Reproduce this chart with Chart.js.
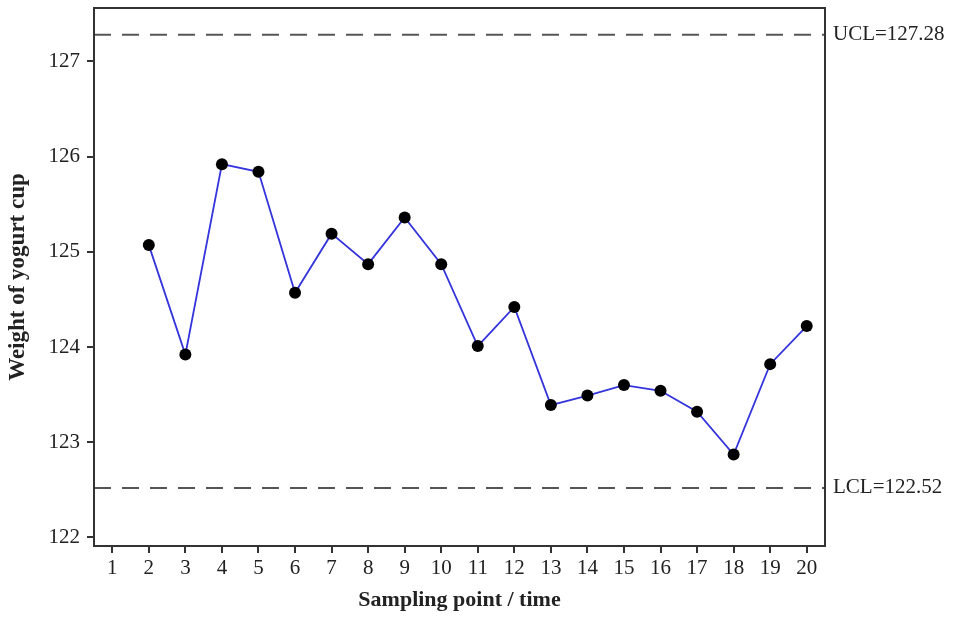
<!DOCTYPE html>
<html>
<head>
<meta charset="utf-8">
<script src="https://cdn.jsdelivr.net/npm/chart.js@4"></script>
<style>
  html, body { margin: 0; padding: 0; background: #fff; }
  #wrap { width: 953px; height: 617px; }
</style>
</head>
<body>
<div id="wrap"><canvas id="chart" width="953" height="617"></canvas></div>
<script>
// control chart data
const samples = [1, 2, 3, 4, 5, 6, 7, 8, 9, 10, 11, 12, 13, 14, 15, 16, 17, 18, 19, 20]
const weights = [null, 125.07, 123.92, 125.92, 125.84, 124.57, 125.19, 124.87, 125.36, 124.87,
  124.01, 124.42, 123.39, 123.49, 123.60, 123.54, 123.32, 122.87, 123.82, 124.22]
const yTicks = [122, 123, 124, 125, 126, 127]
const UCL = 127.28
const LCL = 122.52

const FONT = "'Liberation Serif', 'Times New Roman', serif"
const TEXT_COLOR = '#222'
const FRAME_COLOR = '#333'
const DASH_COLOR = '#555'

const limitLine = (value) => ({
  data: [{ x: 0.5, y: value }, { x: 20.5, y: value }],
  borderColor: DASH_COLOR,
  borderWidth: 2,
  borderDash: [17, 11],
  pointRadius: 0,
  fill: false
})

// box around plot area + control limit labels on the right
const framePlugin = {
  id: 'frameAndLabels',
  afterDraw: (chart) => {
    const ctx = chart.ctx
    const area = chart.chartArea
    const y = chart.scales.y
    ctx.save()
    ctx.strokeStyle = FRAME_COLOR
    ctx.lineWidth = 2
    ctx.strokeRect(area.left, area.top, area.right - area.left, area.bottom - area.top)
    ctx.fillStyle = TEXT_COLOR
    ctx.font = "21px " + FONT
    ctx.textAlign = 'left'
    ctx.textBaseline = 'middle'
    ctx.fillText('UCL=' + UCL.toFixed(2), area.right + 8, y.getPixelForValue(UCL))
    ctx.fillText('LCL=' + LCL.toFixed(2), area.right + 8, y.getPixelForValue(LCL))
    ctx.restore()
  }
}

new Chart(document.getElementById('chart'), {
  type: 'line',
  data: {
    datasets: [
      {
        data: samples.map((s, i) => ({ x: s, y: weights[i] })),
        borderColor: '#3434dc',
        borderWidth: 1.8,
        pointRadius: 6,
        pointBackgroundColor: '#000',
        pointBorderColor: '#000',
        pointBorderWidth: 0,
        tension: 0,
        spanGaps: false
      },
      limitLine(UCL),
      limitLine(LCL)
    ]
  },
  options: {
    responsive: false,
    animation: false,
    layout: { padding: { left: 0, right: 128, top: 8, bottom: 0 } },
    plugins: {
      legend: { display: false },
      tooltip: { enabled: false }
    },
    scales: {
      x: {
        type: 'linear',
        min: 0.5,
        max: 20.5,
        afterBuildTicks: (scale) => { scale.ticks = samples.map(v => ({ value: v })) },
        afterFit: (scale) => { scale.height = 71; scale.paddingLeft = 0; scale.paddingRight = 0 },
        grid: { drawOnChartArea: false, drawTicks: true, tickLength: 7, color: FRAME_COLOR, lineWidth: 2 },
        border: { display: true, color: FRAME_COLOR, width: 2 },
        ticks: { color: TEXT_COLOR, font: { family: FONT, size: 21 }, padding: 3, maxRotation: 0, autoSkip: false },
        title: {
          display: true,
          text: 'Sampling point / time',
          color: TEXT_COLOR,
          font: { family: FONT, size: 22, weight: 'bold' },
          padding: { top: 0, bottom: 3 }
        }
      },
      y: {
        min: 121.91,
        max: 127.56,
        afterBuildTicks: (scale) => { scale.ticks = yTicks.map(v => ({ value: v })) },
        afterFit: (scale) => { scale.width = 94; scale.paddingTop = 0; scale.paddingBottom = 0 },
        grid: { drawOnChartArea: false, drawTicks: true, tickLength: 7, color: FRAME_COLOR, lineWidth: 2 },
        border: { display: true, color: FRAME_COLOR, width: 2 },
        ticks: { color: TEXT_COLOR, font: { family: FONT, size: 21 }, padding: 7 },
        title: {
          display: true,
          text: 'Weight of yogurt cup',
          color: TEXT_COLOR,
          font: { family: FONT, size: 23, weight: 'bold' },
          padding: { top: 4, bottom: 0 }
        }
      }
    }
  },
  plugins: [framePlugin]
})
</script>
</body>
</html>
